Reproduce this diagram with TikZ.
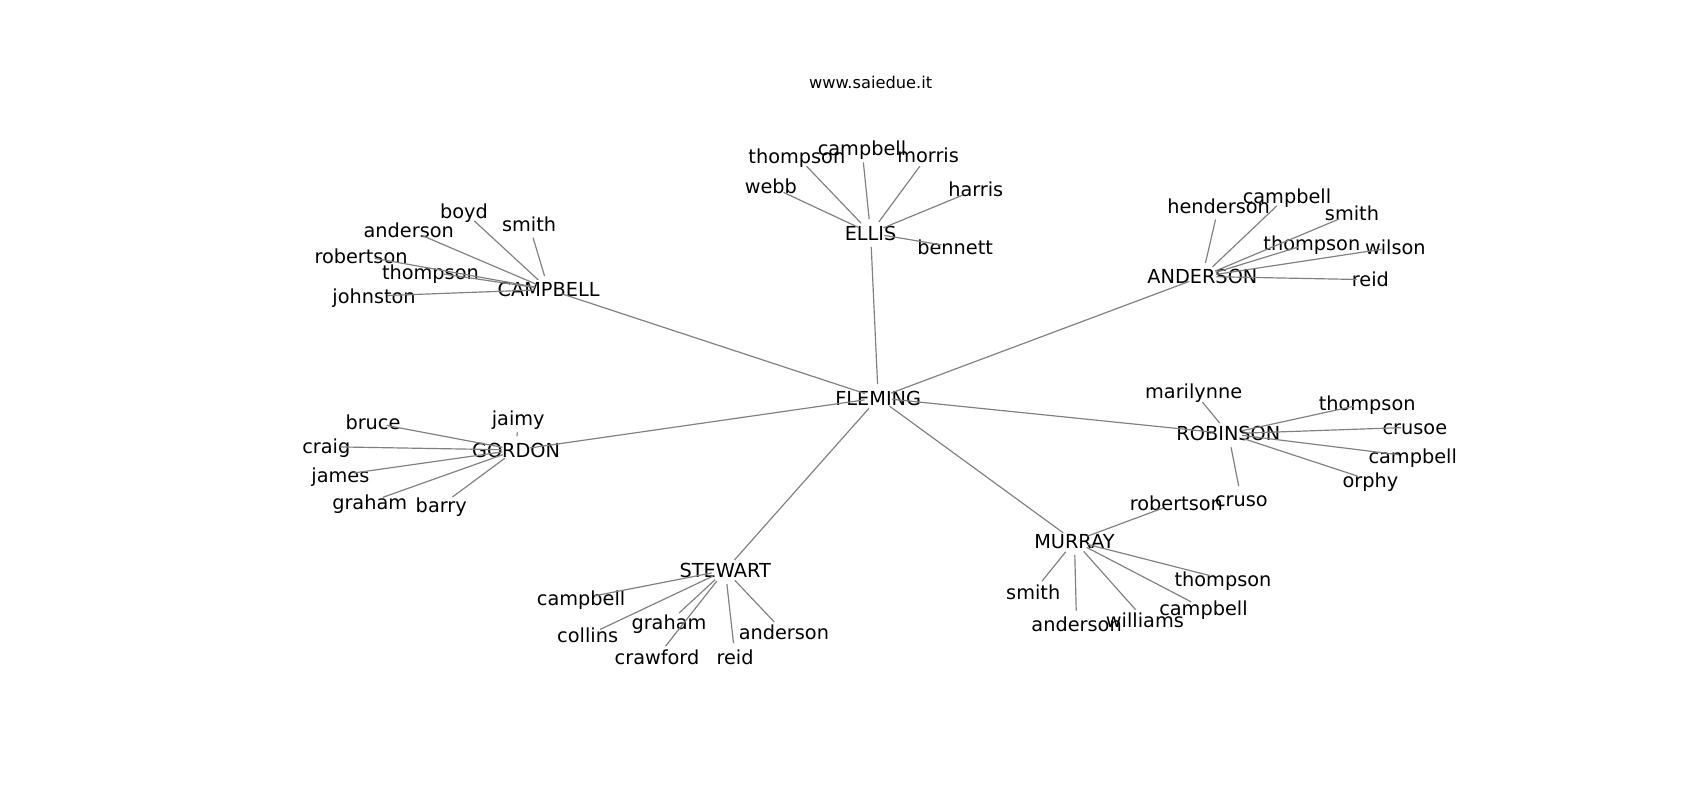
\documentclass[tikz,border=0pt]{standalone}
\usepackage{fontspec}
\setmainfont{DejaVu Sans}
\begin{document}
\begin{tikzpicture}[x=0.7806pt,y=-0.7806pt,
  lbl/.style={inner sep=0pt,outer sep=0pt,font=\fontsize{13.9}{16}\selectfont,text height=1.03em,text depth=0em,text=black},
  ttl/.style={inner sep=0pt,font=\fontsize{11.7}{14}\selectfont,text height=1.03em,text depth=0em},
  edge/.style={draw=gray,line width=0.85pt,shorten >=10pt,shorten <=10pt}]
\useasboundingbox (0,0) rectangle (1568,738);
\node[ttl] (title) at (803,75) {www.saiedue.it};
% hubs
\node[lbl] (fleming) at (810,367) {FLEMING};
\node[lbl] (ellis) at (803,215) {ELLIS};
\node[lbl] (campbell) at (506,267) {CAMPBELL};
\node[lbl] (anderson) at (1109,255) {ANDERSON};
\node[lbl] (robinson) at (1133,400) {ROBINSON};
\node[lbl] (gordon) at (476,415) {GORDON};
\node[lbl] (stewart) at (669,526) {STEWART};
\node[lbl] (murray) at (991,499) {MURRAY};
% ELLIS leaves
\node[lbl] (e1) at (735,144) {thompson};
\node[lbl] (e2) at (795,137) {campbell};
\node[lbl] (e3) at (856,143) {morris};
\node[lbl] (e4) at (900,175) {harris};
\node[lbl] (e5) at (711,172) {webb};
\node[lbl] (e6) at (881,228) {bennett};
% CAMPBELL leaves
\node[lbl] (c1) at (428,195) {boyd};
\node[lbl] (c2) at (488,207) {smith};
\node[lbl] (c3) at (377,212) {anderson};
\node[lbl] (c4) at (333,236) {robertson};
\node[lbl] (c5) at (397,251) {thompson};
\node[lbl] (c6) at (345,273) {johnston};
% ANDERSON leaves
\node[lbl] (a1) at (1124,190) {henderson};
\node[lbl] (a2) at (1187,181) {campbell};
\node[lbl] (a3) at (1247,197) {smith};
\node[lbl] (a4) at (1210,224) {thompson};
\node[lbl] (a5) at (1287,228) {wilson};
\node[lbl] (a6) at (1264,258) {reid};
% ROBINSON leaves
\node[lbl] (r1) at (1101,361) {marilynne};
\node[lbl] (r2) at (1261,372) {thompson};
\node[lbl] (r3) at (1305,394) {crusoe};
\node[lbl] (r4) at (1303,421) {campbell};
\node[lbl] (r5) at (1264,443) {orphy};
\node[lbl] (r6) at (1145,461) {cruso};
% GORDON leaves
\node[lbl] (g1) at (478,386) {jaimy};
\node[lbl] (g2) at (344,390) {bruce};
\node[lbl] (g3) at (301,412) {craig};
\node[lbl] (g4) at (314,438) {james};
\node[lbl] (g5) at (341,463) {graham};
\node[lbl] (g6) at (407,466) {barry};
% STEWART leaves
\node[lbl] (s1) at (536,552) {campbell};
\node[lbl] (s2) at (542,586) {collins};
\node[lbl] (s3) at (617,574) {graham};
\node[lbl] (s4) at (606,606) {crawford};
\node[lbl] (s5) at (678,606) {reid};
\node[lbl] (s6) at (723,583) {anderson};
% MURRAY leaves
\node[lbl] (m1) at (1085,464) {robertson};
\node[lbl] (m2) at (953,546) {smith};
\node[lbl] (m3) at (993,576) {anderson};
\node[lbl] (m4) at (1056,572) {williams};
\node[lbl] (m5) at (1110,561) {campbell};
\node[lbl] (m6) at (1128,534) {thompson};
% edges
\foreach \h in {ellis,campbell,anderson,robinson,gordon,stewart,murray}
  \draw[edge] (fleming.center) -- (\h.center);
\foreach \l in {e1,e2,e3,e4,e5,e6} \draw[edge] (ellis.center) -- (\l.center);
\foreach \l in {c1,c2,c3,c4,c5,c6} \draw[edge] (campbell.center) -- (\l.center);
\foreach \l in {a1,a2,a3,a4,a5,a6} \draw[edge] (anderson.center) -- (\l.center);
\foreach \l in {r1,r2,r3,r4,r5,r6} \draw[edge] (robinson.center) -- (\l.center);
\foreach \l in {g1,g2,g3,g4,g5,g6} \draw[edge] (gordon.center) -- (\l.center);
\foreach \l in {s1,s2,s3,s4,s5,s6} \draw[edge] (stewart.center) -- (\l.center);
\foreach \l in {m1,m2,m3,m4,m5,m6} \draw[edge] (murray.center) -- (\l.center);
\end{tikzpicture}
\end{document}
